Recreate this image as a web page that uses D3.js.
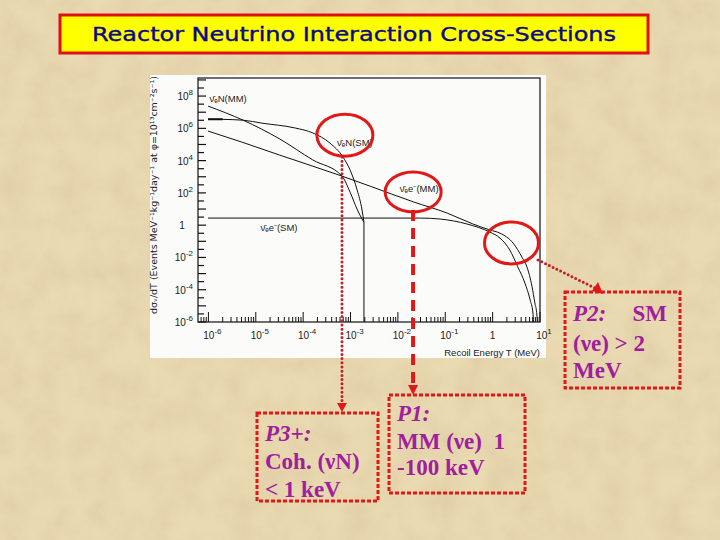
<!DOCTYPE html>
<html><head><meta charset="utf-8">
<script src="https://cdn.jsdelivr.net/npm/d3@7"></script>
<style>html,body{margin:0;padding:0;background:#ead8b0;}svg{display:block;}</style>
</head><body>
<script>
// ---------- data ----------
const title = "Reactor Neutrino Interaction Cross-Sections";
const xLabel = "Recoil Energy T (MeV)";
const yLabel = "dσᵥ/dT (Events MeV⁻¹kg⁻¹day⁻¹ at φ=10¹³cm⁻²s⁻¹)";
const xTickExps = [-6, -5, -4, -3, -2, -1, 0, 1];
const yTickExps = [-6, -4, -2, 0, 2, 4, 6, 8];

// nu-bar N (magnetic moment)
const nMM_T = [9.8e-7, 5.4e-6, 3.2e-5, 1.6e-4, 6.6e-4, 9.8e-4, 1.4e-3, 1.75e-3, 1.92e-3, 1.92e-3];
const nMM_S = [2.4e7, 3.2e6, 2.2e5, 1.1e4, 1.1e3, 110, 8.7, 2.4, 1.5, 1e-8];
// nu-bar N (standard model, coherent)
const nSM_T = [9.8e-7, 2.0e-6, 5.4e-6, 1.35e-5, 6.8e-5, 1.6e-4, 3.7e-4, 6.9e-4, 9.8e-4, 1.38e-3, 1.75e-3, 1.92e-3, 1.92e-3];
const nSM_S = [3.7e6, 3.6e6, 3.2e6, 2.1e6, 1.05e6, 5.2e5, 1.2e5, 1.7e4, 2.6e3, 150, 8.7, 1.5, 1e-8];
// nu-bar e- (magnetic moment)
const eMM_T = [9.8e-7, 5.1e-6, 3.2e-5, 6.6e-4, 2.6e-3, 0.021, 0.11, 0.38, 0.88, 1.43, 2.7, 4.2, 5.3, 6.8, 7.8, 8.6, 9.0];
const eMM_S = [6.8e5, 1.4e5, 2.2e4, 1.1e3, 260, 28, 5.6, 1.2, 0.50, 0.32, 0.078, 0.010, 2.6e-3, 1.5e-4, 1.5e-5, 2.7e-6, 1e-7];
// nu-bar e- (standard model)
const eSM_T = [9.8e-7, 0.03, 0.078, 0.29, 0.88, 1.43, 2.3, 3.4, 4.8, 6.2, 7.1, 7.5];
const eSM_S = [2.75, 2.75, 2.4, 1.17, 0.37, 0.16, 0.029, 2.6e-3, 2.6e-4, 2.3e-5, 3.6e-6, 1e-7];

const curveLabels = [
  {text: "ν̄ₑN(MM)",  T: 1.05e-6, S: 4.5e7},
  {text: "ν̄ₑN(SM)",  T: 5.2e-4,  S: 8.0e4},
  {text: "ν̄ₑe⁻(MM)", T: 0.011,   S: 110},
  {text: "ν̄ₑe⁻(SM)", T: 1.25e-5, S: 0.45}
];

// ---------- layout ----------
const W = 720, H = 540;
const svg = d3.select("body").append("svg").attr("width", W).attr("height", H);
const defs = svg.append("defs");

// paper texture
const f = defs.append("filter").attr("id", "paper").attr("x", 0).attr("y", 0).attr("width", 1).attr("height", 1);
f.append("feTurbulence").attr("type", "fractalNoise").attr("baseFrequency", "0.035").attr("numOctaves", 4).attr("seed", 3);
f.append("feColorMatrix").attr("type", "matrix")
  .attr("values", "0 0 0 0 0.55  0 0 0 0 0.42  0 0 0 0 0.22  0.9 0 0 0 -0.25");
svg.append("rect").attr("width", W).attr("height", H).attr("fill", "#eada b2".replace(" ", ""));
svg.append("rect").attr("width", W).attr("height", H).attr("filter", "url(#paper)").attr("opacity", 0.4);

// title box
svg.append("rect").attr("x", 60).attr("y", 15).attr("width", 588).attr("height", 38)
  .attr("fill", "#ffff00").attr("stroke", "#e01010").attr("stroke-width", 3);
svg.append("text").attr("x", 354).attr("y", 41).attr("text-anchor", "middle")
  .attr("font-family", "DejaVu Sans, sans-serif").attr("font-size", 20)
  .attr("textLength", 524).attr("lengthAdjust", "spacingAndGlyphs")
  .attr("stroke", "#0a0a8a").attr("stroke-width", 0.4)
  .attr("fill", "#0a0a8a").text(title);

// chart panel
svg.append("rect").attr("x", 150).attr("y", 75).attr("width", 396).attr("height", 283).attr("fill", "#fbfbf9");

const X0 = 198, X1 = 540, Y0 = 78, Y1 = 322;
const x = d3.scaleLog().domain([Math.pow(10, -6.22), 10]).range([X0, X1]);
const y = d3.scaleLog().domain([1e-6, Math.pow(10, 9.12)]).range([Y1, Y0]);

defs.append("clipPath").attr("id", "plotclip").append("rect")
  .attr("x", X0).attr("y", Y0).attr("width", X1 - X0).attr("height", Y1 - Y0);

const g = svg.append("g");
// frame
g.append("rect").attr("x", X0).attr("y", Y0).attr("width", X1 - X0).attr("height", Y1 - Y0)
  .attr("fill", "none").attr("stroke", "#111").attr("stroke-width", 1.2);

// x ticks (inside, pointing up)
const xt = [];
for (let k = -7; k <= 1; k++) for (let m = 1; m <= 9; m++) {
  const v = m * Math.pow(10, k);
  if (v >= x.domain()[0] * 0.999 && v <= 10.0001) xt.push({v, major: m === 1});
}
g.selectAll(".xt").data(xt).join("line")
  .attr("x1", d => x(d.v)).attr("x2", d => x(d.v))
  .attr("y1", Y1).attr("y2", d => Y1 - (d.major ? 10 : 5))
  .attr("stroke", "#111").attr("stroke-width", 1);

// y ticks (inside, pointing right) every half decade
const yt = [];
for (let k = -12; k <= 18; k++) yt.push({v: Math.pow(10, k / 2), major: k % 2 === 0});
g.selectAll(".yt").data(yt).join("line")
  .attr("x1", X0).attr("x2", d => X0 + (d.major ? 8 : 6))
  .attr("y1", d => y(d.v)).attr("y2", d => y(d.v))
  .attr("stroke", "#111").attr("stroke-width", 1.2);

// tick labels
const lblFont = "Liberation Sans, Arial, sans-serif";
function powLabel(sel, e) {
  if (e === 0) { sel.text("1"); return; }
  sel.append("tspan").text("10");
  sel.append("tspan").attr("dy", -5).attr("font-size", 8).text(e);
}
xTickExps.forEach(e => {
  const t = svg.append("text").attr("x", x(Math.pow(10, e)) + (e === 0 ? 0 : 4)).attr("y", 339)
    .attr("text-anchor", "middle").attr("font-family", lblFont).attr("font-size", 10).attr("fill", "#222");
  powLabel(t, e);
});
yTickExps.forEach(e => {
  const t = svg.append("text").attr("x", e === 0 ? 182 : 193).attr("y", y(Math.pow(10, e)) + 4)
    .attr("text-anchor", e === 0 ? "middle" : "end").attr("font-family", lblFont).attr("font-size", 10).attr("fill", "#222");
  powLabel(t, e);
});

// axis titles
svg.append("text").attr("x", 540).attr("y", 356).attr("text-anchor", "end")
  .attr("font-family", lblFont).attr("font-size", 9.5).attr("fill", "#222").text(xLabel);
svg.append("text").attr("transform", "translate(157,195) rotate(-90)").attr("text-anchor", "middle")
  .attr("font-family", "DejaVu Sans, sans-serif").attr("font-size", 8.5).attr("fill", "#222")
  .attr("textLength", 238).attr("lengthAdjust", "spacingAndGlyphs").text(yLabel);

// curves
const line = d3.line().x(d => x(d[0])).y(d => y(d[1])).curve(d3.curveMonotoneX);
const lineV = d3.line().x(d => x(d[0])).y(d => y(d[1]));
const cg = svg.append("g").attr("clip-path", "url(#plotclip)");
function drawCurve(T, S, gen) {
  cg.append("path").datum(d3.zip(T, S)).attr("d", gen).attr("fill", "none")
    .attr("stroke", "#111").attr("stroke-width", 1);
}
drawCurve(nMM_T.slice(0, -1), nMM_S.slice(0, -1), line);
drawCurve(nMM_T.slice(-2), nMM_S.slice(-2), lineV);
drawCurve(nSM_T.slice(0, -1), nSM_S.slice(0, -1), line);
drawCurve(eMM_T, eMM_S, line);
drawCurve(eSM_T, eSM_S, line);

// thick start of SM coherent curve
cg.append("path").datum(d3.zip(nSM_T.slice(0, 2), nSM_S.slice(0, 2))).attr("d", lineV)
  .attr("fill", "none").attr("stroke", "#111").attr("stroke-width", 2);

curveLabels.forEach(l => {
  svg.append("text").attr("x", x(l.T)).attr("y", y(l.S)).attr("font-family", lblFont)
    .attr("font-size", 9.5).attr("fill", "#222").text(l.text);
});

// ---------- annotations ----------
const red = "#e01818", dred = "#c0202a";

const ellipses = [
  {T: 7.6e-4, S: 3.8e5, rx: 28, ry: 21},
  {T: 0.021,  S: 115,   rx: 28, ry: 20},
  {T: 2.5,    S: 0.08,  rx: 27, ry: 21}
];
svg.selectAll(".ell").data(ellipses).join("ellipse")
  .attr("cx", d => x(d.T)).attr("cy", d => y(d.S)).attr("rx", d => d.rx).attr("ry", d => d.ry)
  .attr("fill", "none").attr("stroke", red).attr("stroke-width", 3);

// dotted line from circle 1 to P3+ box
const xa = x(6.6e-4), xb = x(0.0209);
svg.append("line").attr("x1", xa).attr("x2", xa).attr("y1", 157).attr("y2", 404)
  .attr("stroke", dred).attr("stroke-width", 3).attr("stroke-dasharray", "0 4.2").attr("stroke-linecap", "round");
svg.append("path").attr("d", `M${xa - 5},403 L${xa + 5},403 L${xa},412 Z`).attr("fill", red);
// dashed line from circle 2 to P1 box
svg.append("line").attr("x1", xb).attr("x2", xb).attr("y1", 210).attr("y2", 386)
  .attr("stroke", red).attr("stroke-width", 4).attr("stroke-dasharray", "11 7");
svg.append("path").attr("d", `M${xb - 5},385 L${xb + 5},385 L${xb},395 Z`).attr("fill", red);
// dotted diagonal from circle 3 to P2 box
svg.append("line").attr("x1", 538).attr("y1", 260).attr("x2", 597).attr("y2", 289)
  .attr("stroke", dred).attr("stroke-width", 3).attr("stroke-dasharray", "0 4.2").attr("stroke-linecap", "round");
svg.append("path").attr("d", "M592,291 L598,282 L603,294 Z").attr("fill", red);

// boxes
const boxes = [
  {x: 257, y: 413, w: 121, h: 88, lines: [["P3+:", true], ["Coh. (νN)", false], ["< 1 keV", false]], ys: [441, 469, 497]},
  {x: 389, y: 395, w: 136, h: 98, lines: [["P1:", true], ["MM (νe)  1", false], ["-100 keV", false]], ys: [421, 449, 475]},
  {x: 565, y: 292, w: 115, h: 96, lines: [["P2:", true], ["(νe) > 2", false], ["MeV", false]], ys: [321, 351, 378]}
];
boxes.forEach(b => {
  svg.append("rect").attr("x", b.x).attr("y", b.y).attr("width", b.w).attr("height", b.h)
    .attr("fill", "none").attr("stroke", red).attr("stroke-width", 3).attr("stroke-dasharray", "4 2");
  b.lines.forEach((l, i) => {
    svg.append("text").attr("x", b.x + 8).attr("y", b.ys[i])
      .attr("font-family", "Liberation Serif, Times New Roman, serif").attr("font-weight", "bold")
      .attr("font-style", l[1] ? "italic" : "normal").attr("font-size", 23).attr("fill", "#a0209c")
      .attr("xml:space", "preserve").style("white-space", "pre").text(l[0]);
  });
});
svg.append("text").attr("x", 667).attr("y", 321).attr("text-anchor", "end")
  .attr("font-family", "Liberation Serif, Times New Roman, serif").attr("font-weight", "bold")
  .attr("font-size", 23).attr("fill", "#a0209c").text("SM");
</script>
</body></html>
